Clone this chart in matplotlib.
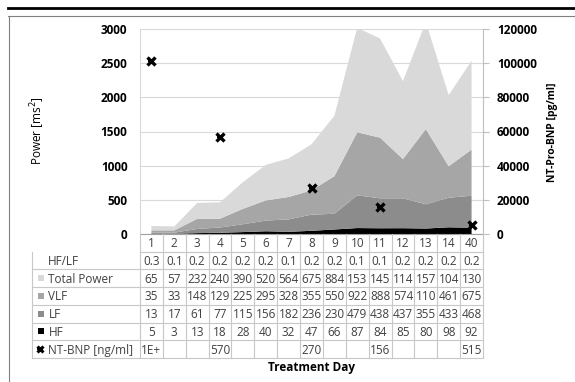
import matplotlib.pyplot as plt
import numpy as np
from matplotlib.lines import Line2D

plt.rcParams['font.family'] = ['Open Sans', 'DejaVu Sans']

days = ["1", "2", "3", "4", "5", "6", "7", "8", "9", "10", "11", "12", "13", "14", "40"]
hf = [5, 3, 13, 18, 28, 40, 32, 47, 66, 87, 84, 85, 80, 98, 92]
lf = [13, 17, 61, 77, 115, 156, 182, 236, 230, 479, 438, 437, 355, 433, 468]
vlf = [35, 33, 148, 129, 225, 295, 328, 355, 550, 922, 888, 574, 1100, 461, 675]
total_power = [65, 57, 232, 240, 390, 520, 564, 675, 884, 1530, 1450, 1140, 1570, 1040, 1300]
hf_lf = ["0.3", "0.1", "0.2", "0.2", "0.2", "0.2", "0.1", "0.2", "0.2", "0.1", "0.1", "0.2", "0.2", "0.2", "0.2"]
nt_bnp = [101000, None, None, 57000, None, None, None, 27000, None, None, 15600, None, None, None, 5150]

c_hf, c_lf, c_vlf, c_tp = "#000000", "#8c8c8c", "#a6a6a6", "#d9d9d9"
grid_c = "#c8c8c8"

W, H = 575, 382
fig = plt.figure(figsize=(W / 100, H / 100), dpi=100)


def fx(px):
    return px / W


def fy(py):
    return 1 - py / H


# outer frame + heavy rule at top
fig.add_artist(Line2D([fx(8), 1], [fy(8), fy(8)], color="black", lw=2.0))
fig.add_artist(Line2D([fx(8), 1], [fy(15.5), fy(15.5)], color="#808080", lw=0.8))
fig.add_artist(Line2D([fx(8.5), fx(8.5)], [fy(15.5), 0], color="#808080", lw=0.8))

L, R, T, B = 140, 483, 29, 234
ax = fig.add_axes([fx(L), fy(B), (R - L) / W, (B - T) / H])
x = np.arange(len(days))
ax.stackplot(x, hf, lf, vlf, total_power, colors=[c_hf, c_lf, c_vlf, c_tp], lw=0, zorder=2)
ax.set_xlim(-0.5, len(days) - 0.5)
ax.set_ylim(0, 3000)
ax.set_yticks(range(0, 3001, 500))
ax.set_xticks([])
ax.grid(axis="y", color="#d9d9d9", lw=0.8)
ax.set_axisbelow(True)
ax.tick_params(axis="y", length=0, pad=9)
for lab in ax.get_yticklabels():
    lab.set_fontweight("bold")
    lab.set_fontsize(8.5)
for s in ["top", "right"]:
    ax.spines[s].set_visible(False)
ax.spines["left"].set_color("#d9d9d9")
ax.spines["bottom"].set_color("#a0a0a0")

ax2 = ax.twinx()
ax2.set_ylim(0, 120000)
ax2.set_yticks(range(0, 120001, 20000))
bx = [i for i, v in enumerate(nt_bnp) if v is not None]
by = [v for v in nt_bnp if v is not None]
ax2.plot(bx, by, ls="none", marker="x", ms=6, mew=2.4, color="black", clip_on=False, zorder=5)
ax2.plot(bx, by, ls="none", marker="_", ms=5, mew=1.5, color="black", clip_on=False, zorder=5)
for s in ["top", "left", "bottom"]:
    ax2.spines[s].set_visible(False)
ax2.spines["right"].set_color("#bfbfbf")
ax2.tick_params(axis="y", length=4, color="#bfbfbf", pad=6)
for lab in ax2.get_yticklabels():
    lab.set_fontweight("bold")
    lab.set_fontsize(8.5)

fig.text(fx(38), fy(131), "Power [ms$^2$]", rotation=90, ha="center", va="center", fontsize=8.5)
fig.text(fx(553), fy(132), "NT-Pro-BNP [pg/ml]", rotation=90, ha="center", va="center",
         fontsize=7.5, fontweight="bold")

# data table
TL, TB = 32, 358
cell = (R - L) / len(days)
xl = -0.5 - (L - TL) / cell
tab = fig.add_axes([fx(TL), fy(TB), (R - TL) / W, (TB - B) / H])
tab.set_xlim(xl, len(days) - 0.5)
tab.set_ylim(7, 0)
tab.axis("off")
for k in range(1, 8):
    tab.plot([xl if k > 1 else -0.5, len(days) - 0.5], [k, k], color=grid_c, lw=0.8, clip_on=False)
tab.plot([-0.5, len(days) - 0.5], [1, 1], color=grid_c, lw=0.8, clip_on=False)
for k in range(len(days) + 1):
    tab.plot([k - 0.5, k - 0.5], [0, 7], color=grid_c, lw=0.8, clip_on=False)
tab.plot([xl, xl], [1, 7], color=grid_c, lw=0.8, clip_on=False)

fs = 8.5
for i, d in enumerate(days):
    tab.text(i, 0.55, d, ha="center", va="center", fontsize=fs, color="#404040")


def trunc(v):
    if v is None:
        return ""
    s = f"{v:.0E}" if v >= 100000 else str(v)
    return s[:3]


rows = [
    ("HF/LF", hf_lf, None),
    ("Total Power", [trunc(v) for v in total_power], c_tp),
    ("VLF", [trunc(v) for v in vlf], c_vlf),
    ("LF", [trunc(v) for v in lf], c_lf),
    ("HF", [trunc(v) for v in hf], c_hf),
    ("NT-BNP [ng/ml]", [trunc(v) for v in nt_bnp], "marker"),
]
for r, (name, vals, key) in enumerate(rows, start=1):
    yc = r + 0.55
    if key is None:
        tab.text(xl + 0.7, yc, name, ha="left", va="center", fontsize=fs, color="#404040")
    else:
        tab.text(xl + 0.72, yc, name, ha="left", va="center", fontsize=fs, color="#404040")
        if key == "marker":
            tab.plot([xl + 0.35], [yc - 0.05], marker="x", ms=5, mew=2.2, color="black")
            tab.plot([xl + 0.35], [yc - 0.05], marker="_", ms=4.5, mew=1.4, color="black")
        else:
            tab.plot([xl + 0.38], [yc - 0.05], marker="s", ms=4.5, mew=0, color=key)
    for i, s in enumerate(vals):
        if s == "1E+":
            tab.text(i - 0.45, yc, s, ha="left", va="center", fontsize=fs, color="#404040")
        else:
            tab.text(i, yc, s, ha="center", va="center", fontsize=fs, color="#404040")

fig.text(fx(311), fy(368), "Treatment Day", ha="center", va="center", fontsize=8.5, fontweight="bold")

fig.savefig("out.png", dpi=100)
